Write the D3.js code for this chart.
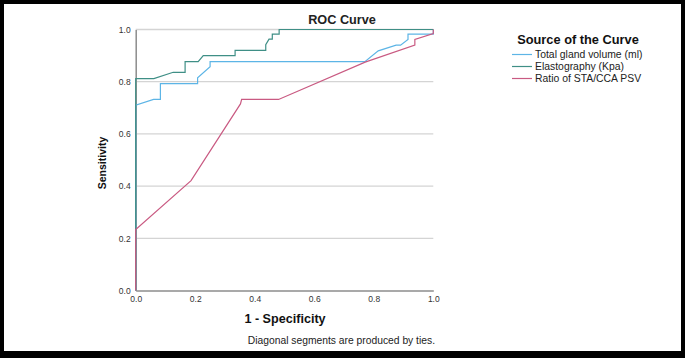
<!DOCTYPE html>
<html>
<head>
<meta charset="utf-8">
<script src="https://cdn.jsdelivr.net/npm/d3@7"></script>
<style>
  body { margin: 0; background: #fff; }
  svg text { font-family: "Liberation Sans", Arial, sans-serif; }
</style>
</head>
<body>
<svg id="chart" width="685" height="358"></svg>
<script>
// curve points as [1 - specificity, sensitivity]
const glandVolume = [[0,0],[0,0.71],[0.06,0.732],[0.083,0.732],[0.083,0.793],[0.208,0.793],[0.208,0.815],
  [0.25,0.857],[0.25,0.877],[0.77,0.877],[0.815,0.918],[0.875,0.94],[0.89,0.94],[0.915,0.962],
  [0.915,0.982],[1,0.982],[1,1]];
const elastography = [[0,0],[0,0.812],[0.061,0.812],[0.126,0.836],[0.166,0.836],[0.166,0.877],[0.21,0.877],
  [0.227,0.9],[0.334,0.9],[0.334,0.92],[0.437,0.92],[0.437,0.942],[0.448,0.963],[0.459,0.963],
  [0.459,0.982],[0.482,0.982],[0.482,1],[1,1]];
const ratioPSV = [[0,0],[0,0.234],[0.186,0.421],[0.352,0.715],[0.356,0.732],[0.48,0.732],[0.771,0.875],
  [0.938,0.94],[0.938,0.962],[1,0.984],[1,1]];

const seriesNames = ["Total gland volume (ml)", "Elastography (Kpa)", "Ratio of STA/CCA PSV"];
const seriesColors = ["#5db5e6", "#3f8f86", "#c95a82"];
const seriesData = [glandVolume, elastography, ratioPSV];
const tickValues = [0, 0.2, 0.4, 0.6, 0.8, 1.0];

const svg = d3.select("#chart");

// black frame round the figure
svg.append("rect").attr("x", 2).attr("y", 2).attr("width", 681).attr("height", 352)
  .attr("fill", "#fff").attr("stroke", "#000").attr("stroke-width", 4);
svg.append("rect").attr("x", 0).attr("y", 351).attr("width", 685).attr("height", 7).attr("fill", "#000");

const x = d3.scaleLinear().domain([0, 1]).range([135.7, 433.3]);
const y = d3.scaleLinear().domain([0, 1]).range([290.5, 29.5]);

// gridlines
svg.append("g")
  .selectAll("line")
  .data(tickValues.filter(d => d > 0))
  .join("line")
  .attr("x1", x(0)).attr("x2", x(1))
  .attr("y1", d => y(d)).attr("y2", d => y(d))
  .attr("stroke", "#d4d4d4").attr("stroke-width", 1.3);

// axes
const xAxis = svg.append("g").attr("transform", `translate(0,${y(0)})`)
  .call(d3.axisBottom(x).tickValues(tickValues).tickFormat(d3.format(".1f")).tickSize(0).tickPadding(5));
const yAxis = svg.append("g").attr("transform", `translate(${x(0)},0)`)
  .call(d3.axisLeft(y).tickValues(tickValues).tickFormat(d3.format(".1f")).tickSize(0).tickPadding(5));
[xAxis, yAxis].forEach(a => {
  a.select(".domain").attr("stroke", "#8c8c8c").attr("stroke-width", 1.5);
  a.selectAll("text").attr("font-size", 8.5).attr("fill", "#333")
    .style("font-family", "'Liberation Sans', Arial, sans-serif");
});

// curves (ratio last so it sits on top, as in the original)
const line = d3.line().x(d => x(d[0])).y(d => y(d[1]));
svg.append("g")
  .selectAll("path")
  .data(seriesData.map((d, i) => ({ pts: d, color: seriesColors[i] })))
  .join("path")
  .attr("d", d => line(d.pts))
  .attr("fill", "none")
  .attr("stroke", d => d.color)
  .attr("stroke-width", 1.2);

// titles
svg.append("text").attr("x", 342).attr("y", 23.5).attr("text-anchor", "middle")
  .attr("font-size", 12.7).attr("font-weight", "bold").attr("fill", "#222").text("ROC Curve");
svg.append("text").attr("x", 285).attr("y", 323).attr("text-anchor", "middle")
  .attr("font-size", 12.6).attr("font-weight", "bold").attr("fill", "#111").text("1 - Specificity");
svg.append("text").attr("transform", "translate(106,163) rotate(-90)").attr("text-anchor", "middle")
  .attr("font-size", 10.5).attr("font-weight", "bold").attr("fill", "#111").text("Sensitivity");
svg.append("text").attr("x", 435).attr("y", 343.5).attr("text-anchor", "end")
  .attr("font-size", 10.3).attr("fill", "#222").text("Diagonal segments are produced by ties.");

// legend
svg.append("text").attr("x", 578).attr("y", 43.5).attr("text-anchor", "middle")
  .attr("font-size", 12.8).attr("font-weight", "bold").attr("fill", "#111").text("Source of the Curve");
const legend = svg.append("g").selectAll("g")
  .data(seriesNames)
  .join("g")
  .attr("transform", (d, i) => `translate(512,${54.5 + i * 12})`);
legend.append("line").attr("x1", 0).attr("x2", 20)
  .attr("stroke", (d, i) => seriesColors[i]).attr("stroke-width", 1.2);
legend.append("text").attr("x", 23).attr("y", 3.8).attr("font-size", 10.4).attr("fill", "#222").text(d => d);
</script>
</body>
</html>
